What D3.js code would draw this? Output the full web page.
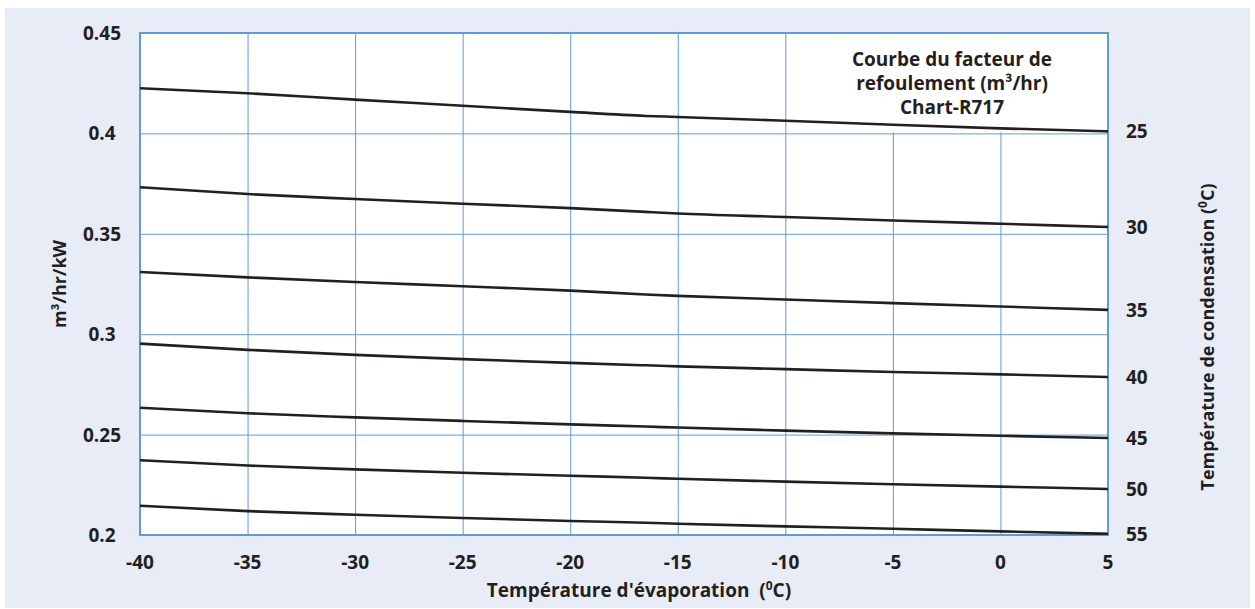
<!DOCTYPE html>
<html>
<head>
<meta charset="utf-8">
<script src="https://cdn.jsdelivr.net/npm/d3@7"></script>
<style>
  html, body { margin: 0; padding: 0; background: #ffffff; }
  svg { display: block; }
  text { font-family: "Open Sans", "Noto Sans", sans-serif; font-weight: 700; fill: #231f20; }
</style>
</head>
<body>
<svg id="chart" width="1255" height="609"></svg>
<script>
// Evaporation temperatures (°C) where each curve is sampled
const evapTemps = [-40, -35, -30, -25, -20, -16.5, -15, -10, -5, 0, 5];

// Condensing temperatures (°C), one curve each
const condTemps = [25, 30, 35, 40, 45, 50, 55];

// Discharge factor (m³/hr/kW) per condensing temperature
const cond25 = [0.4225, 0.4200, 0.4168, 0.4138, 0.4107, 0.4087, 0.4082, 0.4063, 0.4043, 0.4025, 0.4010];
const cond30 = [0.3732, 0.3698, 0.3673, 0.3650, 0.3628, 0.3609, 0.3601, 0.3584, 0.3566, 0.3550, 0.3534];
const cond35 = [0.3310, 0.3283, 0.3260, 0.3239, 0.3217, 0.3198, 0.3191, 0.3173, 0.3155, 0.3138, 0.3121];
const cond40 = [0.2953, 0.2922, 0.2897, 0.2876, 0.2857, 0.2845, 0.2840, 0.2826, 0.2812, 0.2800, 0.2787];
const cond45 = [0.2634, 0.2606, 0.2586, 0.2568, 0.2551, 0.2540, 0.2535, 0.2520, 0.2506, 0.2494, 0.2483];
const cond50 = [0.2372, 0.2346, 0.2327, 0.2310, 0.2295, 0.2285, 0.2280, 0.2266, 0.2253, 0.2241, 0.2229];
const cond55 = [0.2146, 0.2119, 0.2101, 0.2085, 0.2070, 0.2061, 0.2056, 0.2043, 0.2031, 0.2018, 0.2006];

// Axis ticks
const xTicks = [-40, -35, -30, -25, -20, -15, -10, -5, 0, 5];
const yTicks = [0.2, 0.25, 0.3, 0.35, 0.4, 0.45];

// Title lines
const titleLines = ["Courbe du facteur de", "refoulement (m³/hr)", "Chart-R717"];

const seriesValues = [cond25, cond30, cond35, cond40, cond45, cond50, cond55];
const series = condTemps.map((t, i) => ({
  label: String(t),
  points: evapTemps.map((x, j) => ({ x, y: seriesValues[i][j] }))
}));

const svg = d3.select("#chart");
const plot = { left: 140, right: 1108, top: 33, bottom: 535 };

const x = d3.scaleLinear().domain([-40, 5]).range([plot.left, plot.right]);
const y = d3.scaleLinear().domain([0.2, 0.45]).range([plot.bottom, plot.top]);

const gridColor = "#5f9bd6";
const textColor = "#231f20";

// Page background
svg.append("rect")
  .attr("x", 5).attr("y", 8)
  .attr("width", 1245).attr("height", 600)
  .attr("fill", "#e8ecf7");

// Plot area
svg.append("rect")
  .attr("x", plot.left).attr("y", plot.top)
  .attr("width", plot.right - plot.left).attr("height", plot.bottom - plot.top)
  .attr("fill", "#ffffff");

// Grid
const gx = svg.append("g")
  .attr("transform", `translate(0,${plot.bottom})`)
  .call(d3.axisBottom(x).tickValues(xTicks).tickSize(-(plot.bottom - plot.top)).tickFormat(""));
gx.select(".domain").remove();
gx.selectAll("line").attr("stroke", gridColor).attr("stroke-width", 1);

const gy = svg.append("g")
  .attr("transform", `translate(${plot.left},0)`)
  .call(d3.axisLeft(y).tickValues(yTicks).tickSize(-(plot.right - plot.left)).tickFormat(""));
gy.select(".domain").remove();
gy.selectAll("line").attr("stroke", gridColor).attr("stroke-width", 1);

// Title panel (white box over the top-right grid cells)
svg.append("rect")
  .attr("x", 830).attr("y", y(0.45) + 1)
  .attr("width", plot.right - 830 - 1).attr("height", y(0.4) - y(0.45) - 2)
  .attr("fill", "#ffffff");

svg.append("g")
  .selectAll("text")
  .data(titleLines)
  .join("text")
  .attr("x", 952)
  .attr("y", (d, i) => 59 + i * 24)
  .attr("text-anchor", "middle")
  .attr("dominant-baseline", "central")
  .attr("font-size", 19)
  .text(d => d);

// Plot border
svg.append("rect")
  .attr("x", plot.left).attr("y", plot.top)
  .attr("width", plot.right - plot.left).attr("height", plot.bottom - plot.top)
  .attr("fill", "none")
  .attr("stroke", gridColor)
  .attr("stroke-width", 2);

// Curves
const line = d3.line()
  .x(d => x(d.x))
  .y(d => y(d.y))
  .curve(d3.curveMonotoneX);

svg.append("g")
  .selectAll("path")
  .data(series)
  .join("path")
  .attr("d", d => line(d.points))
  .attr("fill", "none")
  .attr("stroke", textColor)
  .attr("stroke-width", 2.6);

// Condensing temperature labels at curve ends
svg.append("g")
  .selectAll("text")
  .data(series)
  .join("text")
  .attr("x", 1126)
  .attr("y", d => y(d.points[d.points.length - 1].y))
  .attr("dominant-baseline", "central")
  .attr("font-size", 19)
  .text(d => d.label);

// X tick labels
svg.append("g")
  .selectAll("text")
  .data(xTicks)
  .join("text")
  .attr("x", d => x(d))
  .attr("y", 562)
  .attr("text-anchor", "middle")
  .attr("dominant-baseline", "central")
  .attr("font-size", 19)
  .text(d => d);

// Y tick labels
svg.append("g")
  .selectAll("text")
  .data(yTicks)
  .join("text")
  .attr("x", 102)
  .attr("y", d => y(d))
  .attr("text-anchor", "middle")
  .attr("dominant-baseline", "central")
  .attr("font-size", 19)
  .text(d => d3.format("")(d));

// X axis title
const xt = svg.append("text")
  .attr("x", 639)
  .attr("y", 590)
  .attr("text-anchor", "middle")
  .attr("dominant-baseline", "central")
  .attr("font-size", 19)
  .attr("xml:space", "preserve");
xt.append("tspan").text("Température d'évaporation  (");
xt.append("tspan").attr("font-size", 12).attr("dy", -5).text("0");
xt.append("tspan").attr("dy", 5).text("C)");

// Left axis title
svg.append("text")
  .attr("transform", `translate(59,${(plot.top + plot.bottom) / 2}) rotate(-90)`)
  .attr("text-anchor", "middle")
  .attr("dominant-baseline", "central")
  .attr("font-size", 18)
  .text("m³/hr/kW");

// Right axis title
const rt = svg.append("text")
  .attr("transform", "translate(1207,337) rotate(-90)")
  .attr("text-anchor", "middle")
  .attr("dominant-baseline", "central")
  .attr("font-size", 18);
rt.append("tspan").text("Température de condensation (");
rt.append("tspan").attr("font-size", 12).attr("dy", -5).text("0");
rt.append("tspan").attr("dy", 5).text("C)");
</script>
</body>
</html>
